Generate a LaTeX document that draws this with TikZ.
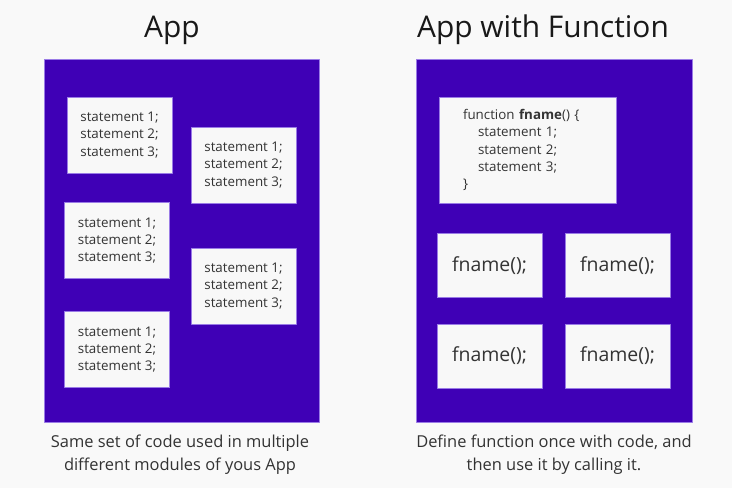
\documentclass[tikz,border=0pt]{standalone}
\usepackage{fontspec}
\setmainfont{Open Sans}
\definecolor{pagebg}{HTML}{F9F9F9}
\definecolor{appblue}{HTML}{3F00B6}
\definecolor{appedge}{HTML}{9A7BE6}
\definecolor{boxbg}{HTML}{F8F8F8}
\definecolor{inktext}{HTML}{333333}
\begin{document}
\begin{tikzpicture}[x=1bp, y=-1bp, text=inktext, line join=round,
		panel/.style={fill=appblue, draw=appedge, line width=0.8bp, inner sep=0pt},
		stmtbox/.style={fill=boxbg, draw=appedge, line width=0.6bp, minimum width=105bp, minimum height=76bp, align=center, inner sep=0pt, font=\fontsize{13.4}{17.3}\selectfont},
		callbox/.style={fill=boxbg, draw=appedge, line width=0.6bp, minimum width=105bp, minimum height=64bp, inner sep=0pt, font=\fontsize{19.5}{23}\selectfont},
		title/.style={anchor=base, inner sep=0pt, font=\fontsize{30}{34}\selectfont, text=black!90},
		caption/.style={anchor=north, align=center, inner sep=0pt, font=\fontsize{16.5}{23.5}\selectfont}]
	\useasboundingbox[fill=pagebg] (0,0) rectangle (732,488);
	\node[title] (tApp) at (172,38) {App};
	\node[title] (tFun) at (543,38) {App with Function};
	\node[panel, minimum width=275bp, minimum height=363bp] (app) at (181.5,240.5) {};
	\node[panel, minimum width=276bp, minimum height=363bp] (appf) at (554,240.5) {};
	\foreach \nm/\x/\y in {s1/119.5/135, s2/243.5/165, s3/117/240.5, s4/243.5/286, s5/117/349.5}
		\node[stmtbox] (\nm) at (\x,\y) {statement 1;\\statement 2;\\statement 3;};
	\node[stmtbox, minimum width=177bp, minimum height=106bp, text width=129bp, inner xsep=24bp, align=left] (fdef) at (527.5,150)
		{function \textbf{fname}() \{\\\hspace*{15bp}statement 1;\\\hspace*{15bp}statement 2;\\\hspace*{15bp}statement 3;\\\}};
	\foreach \nm/\x/\y in {c1/489.5/265.5, c2/617.5/265.5, c3/489.5/356, c4/617.5/356}
		\node[callbox] (\nm) at (\x,\y) {fname();};
	\node[caption] (capL) at (180,434.5) {Same set of code used in multiple\\different modules of yous App};
	\node[caption] (capR) at (554,434.5) {Define function once with code, and\\then use it by calling it.};
\end{tikzpicture}
\end{document}
